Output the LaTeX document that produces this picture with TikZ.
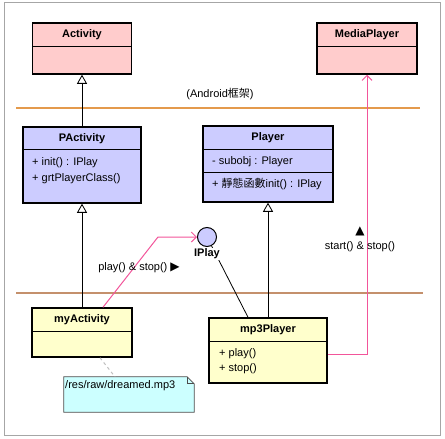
\documentclass[tikz,border=0pt]{standalone}
\usepackage{fontspec}
\setmainfont{Liberation Sans}
\newfontfamily\cjk{Noto Sans CJK TC}
\newfontfamily\symb{DejaVu Sans}
\usetikzlibrary{arrows.meta}
\definecolor{umlpink}{HTML}{FFCCCC}
\definecolor{umlblue}{HTML}{CCCCFF}
\definecolor{umlyellow}{HTML}{FFFFCC}
\definecolor{umlcyan}{HTML}{CCFFFF}
\definecolor{linkpink}{HTML}{F2559A}
\definecolor{layerorange}{HTML}{E49A4C}
\definecolor{layerbrown}{HTML}{C4906C}
\newcommand\umlfont{\fontsize{11}{13}\selectfont}

\begin{document}
\begin{tikzpicture}[x=1pt,y=-1pt,font=\umlfont,
    cls/.style={draw,line width=1.5pt,inner sep=0pt},
    clsname/.style={font=\umlfont\bfseries,inner sep=0pt},
    member/.style={anchor=west,inner sep=0pt},
    divider/.style={line width=1pt},
    inherit/.style={-{Triangle[open,length=9pt,width=10pt,fill=white]},line width=0.8pt},
    call/.style={draw=linkpink,line width=1pt,-{Straight Barb[length=5pt,width=10pt]}}]
  \useasboundingbox (0,0) rectangle (445,439);
  \draw[gray!70] (4,2) rectangle (440,435);
  % layers
  \draw[layerorange,line width=1.6pt] (16,108) -- (420,108);
  \draw[layerbrown,line width=1.6pt] (16,293) -- (423,293);
  \node (android) at (220,94) {(Android{\cjk 框架})};
  % framework classes
  \node[cls,fill=umlpink,minimum width=99pt,minimum height=51pt] (Activity) at (82,48.5) {};
  \draw[divider] ([yshift=-24pt]Activity.north west) -- ([yshift=-24pt]Activity.north east);
  \node[clsname] (ActivityName) at ([yshift=-12pt]Activity.north) {Activity};
  \node[cls,fill=umlpink,minimum width=100pt,minimum height=51pt] (MediaPlayer) at (367,48.5) {};
  \draw[divider] ([yshift=-24pt]MediaPlayer.north west) -- ([yshift=-24pt]MediaPlayer.north east);
  \node[clsname] (MediaPlayerName) at ([yshift=-12pt]MediaPlayer.north) {MediaPlayer};
  % middle classes
  \node[cls,fill=umlblue,minimum width=118pt,minimum height=76pt] (PActivity) at (82,165) {};
  \draw[divider] ([yshift=-23pt]PActivity.north west) -- ([yshift=-23pt]PActivity.north east);
  \node[clsname] (PActivityName) at ([yshift=-12pt]PActivity.north) {PActivity};
  \node[member] (pInit) at (32,163) {+ init() : IPlay};
  \node[member] (pGrt) at (32,179) {+ grtPlayerClass()};
  \node[cls,fill=umlblue,minimum width=130pt,minimum height=76pt] (Player) at (268,164) {};
  \draw[divider] ([yshift=-24pt]Player.north west) -- ([yshift=-24pt]Player.north east);
  \draw[divider] ([yshift=-47pt]Player.north west) -- ([yshift=-47pt]Player.north east);
  \node[clsname] (PlayerName) at ([yshift=-12pt]Player.north) {Player};
  \node[member] (plSub) at (212,162) {- subobj : Player};
  \node[member] (plInit) at (212,184) {+ {\cjk 靜態函數}init() : IPlay};
  % application classes
  \node[cls,fill=umlyellow,minimum width=100pt,minimum height=49pt] (myActivity) at (82,332.5) {};
  \draw[divider] ([yshift=-24pt]myActivity.north west) -- ([yshift=-24pt]myActivity.north east);
  \node[clsname] (myActivityName) at ([yshift=-12pt]myActivity.north) {myActivity};
  \node[cls,fill=umlyellow,minimum width=118pt,minimum height=65pt] (mp3Player) at (268,350.5) {};
  \draw[divider] ([yshift=-24pt]mp3Player.north west) -- ([yshift=-24pt]mp3Player.north east);
  \node[clsname] (mp3PlayerName) at ([yshift=-12pt]mp3Player.north) {mp3Player};
  \node[member] (mp3Play) at (219,354) {+ play()};
  \node[member] (mp3Stop) at (219,369) {+ stop()};
  % note
  \node[minimum width=130pt,minimum height=35pt,inner sep=0pt] (note) at (129,394.5) {};
  \filldraw[fill=umlcyan,draw=black!70,line width=0.7pt] (note.south west) -- (note.north west)
    -- ([xshift=-7pt]note.north east) -- ([yshift=-7pt]note.north east) -- (note.south east) -- cycle;
  \draw[black!70,line width=0.7pt] ([xshift=-7pt]note.north east) |- ([yshift=-7pt]note.north east);
  \node[member] (noteText) at (65,386) {/res/raw/dreamed.mp3};
  \draw[gray!50,dashed,line width=1pt] ([xshift=18pt]myActivity.south) -- ([xshift=-14pt]note.north);
  % interface
  \draw[line width=0.8pt] (207,237) -- ([xshift=-20pt]mp3Player.north);
  \node[circle,draw,fill=umlblue,minimum size=19pt,inner sep=0pt,line width=1pt] (iplay) at (207,237) {};
  \node[clsname,fill=white,inner sep=0.5pt] (iplayName) at (207,254) {IPlay};
  % connectors
  \draw[inherit] (PActivity) -- (Activity);
  \draw[inherit] (myActivity) -- (PActivity);
  \draw[inherit] (mp3Player) -- (Player);
  \coordinate (bend) at (158,237);
  \draw[call] ([xshift=21pt]myActivity.north) -- (bend) -- (iplay.west);
  \draw[call] (mp3Play -| mp3Player.east) -| (MediaPlayer.south);
  \node (playLabel) at (139,268) {play() \& stop() {\symb\fontsize{12}{12}\selectfont ▶}};
  \node (startArrow) at (360,231) {{\symb\fontsize{12}{12}\selectfont ▲}};
  \node (startLabel) at (360,247) {start() \& stop()};
\end{tikzpicture}
\end{document}
